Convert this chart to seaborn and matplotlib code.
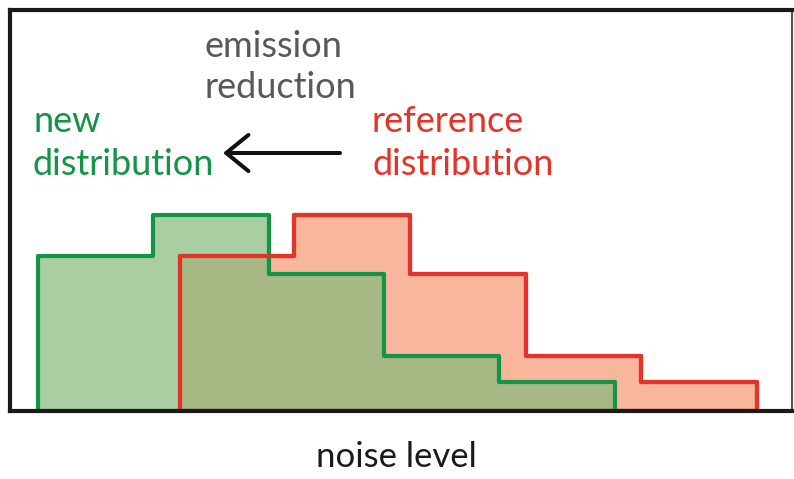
import matplotlib
matplotlib.use("Agg")
import matplotlib.pyplot as plt
import seaborn as sns
import numpy as np

# bin edges along the noise level axis (arbitrary units, 0-100)
new_edges = [3.6, 18.3, 33.1, 47.8, 62.5, 77.4]
ref_edges = [21.7, 36.3, 51.2, 66.0, 80.7, 95.5]
# relative frequency per bin (same shape, shifted)
new_heights = [0.387, 0.488, 0.342, 0.136, 0.071]
ref_heights = [0.387, 0.488, 0.342, 0.136, 0.071]

green = "#149447"
red = "#e3332a"
salmon = "#f8b69c"
green_fill = "#83ba79"

sns.set_style("white")
plt.rcParams["font.family"] = ["Lato", "DejaVu Sans"]

W, H = 794, 479
fig = plt.figure(figsize=(W / 100, H / 100), dpi=100)
ax = fig.add_axes([10 / W, 1 - 410.5 / H, 782 / W, 400.5 / H])

def centers(edges):
    e = np.array(edges)
    return (e[:-1] + e[1:]) / 2

# reference distribution (opaque salmon fill)
sns.histplot(x=centers(ref_edges), weights=ref_heights, bins=ref_edges,
             element="step", fill=True, color=red, facecolor=salmon,
             edgecolor=red, linewidth=3, alpha=1, ax=ax)
# new distribution (semi-transparent green fill)
sns.histplot(x=centers(new_edges), weights=new_heights, bins=new_edges,
             element="step", fill=True, color=green_fill, alpha=0.7,
             edgecolor=green, linewidth=3, ax=ax)
# redraw reference outline on top
sns.histplot(x=centers(ref_edges), weights=ref_heights, bins=ref_edges,
             element="step", fill=True, color=red, facecolor="none",
             edgecolor=red, linewidth=3, ax=ax)

ax.set_xlim(0, 100)
ax.set_ylim(0, 1)
ax.set_xticks([])
ax.set_yticks([])
ax.set_xlabel("")
ax.set_ylabel("")
for side in ["left", "top", "bottom"]:
    ax.spines[side].set_linewidth(3)
    ax.spines[side].set_color("#1a1a1a")
ax.spines["right"].set_linewidth(1.5)
ax.spines["right"].set_color("#555555")

fs = 26
def ftext(x, y, s, **kw):
    fig.text(x / W, 1 - y / H, s, fontsize=fs, va="baseline", ha="left",
             **kw)

ftext(205, 57, "emission", color="#585858")
ftext(205, 98, "reduction", color="#585858")
ftext(33, 132, "new", color=green)
ftext(33, 175, "distribution", color=green)
ftext(372, 132, "reference", color=red)
ftext(372, 175, "distribution", color=red)
fig.text(396 / W, 1 - 467 / H, "noise level", fontsize=25, color="#1a1a1a",
         ha="center", va="baseline")

ax.annotate("", xy=(223 / W, 1 - 153 / H), xytext=(340 / W, 1 - 153 / H),
            xycoords="figure fraction", textcoords="figure fraction",
            arrowprops=dict(arrowstyle="->,head_length=1.6,head_width=1.3",
                            lw=2.9, color="#111111", mutation_scale=10,
                            shrinkA=0, shrinkB=0))

fig.savefig("out.png", dpi=100)
